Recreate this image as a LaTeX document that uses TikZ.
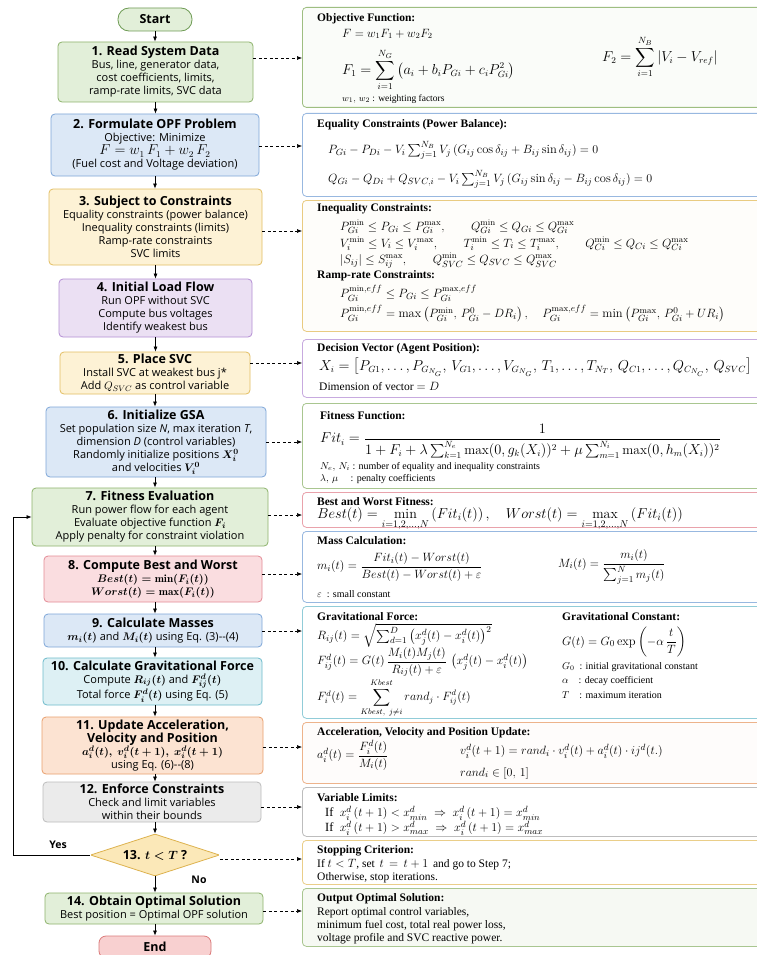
\documentclass[tikz,border=0pt]{standalone}
\usepackage{amsmath,amssymb}
\usepackage{fontspec}
\newfontfamily\flowfont{Open Sans}
\newfontfamily\rfont{Liberation Serif}
\usetikzlibrary{arrows.meta,shapes.geometric,calc}
\definecolor{gF}{HTML}{E2EFD9}\definecolor{gD}{HTML}{8DB36B}
\definecolor{bF}{HTML}{DCE8F6}\definecolor{bD}{HTML}{7EA6D8}
\definecolor{yF}{HTML}{FDF2D5}\definecolor{yD}{HTML}{E3BE62}
\definecolor{pF}{HTML}{EBE0F3}\definecolor{pD}{HTML}{B48ED4}
\definecolor{rF}{HTML}{FADDE0}\definecolor{rD}{HTML}{E48B96}
\definecolor{cF}{HTML}{DDF0F4}\definecolor{cD}{HTML}{6DBBCB}
\definecolor{oF}{HTML}{FCE3D2}\definecolor{oD}{HTML}{E9A06E}
\definecolor{kF}{HTML}{EBEBEB}\definecolor{kD}{HTML}{BDBDBD}
\definecolor{dF}{HTML}{FBE8B8}\definecolor{dD}{HTML}{DDB24E}
\definecolor{eF}{HTML}{F8D0D0}\definecolor{eD}{HTML}{DB7B7B}
\definecolor{sD}{HTML}{6E9B54}
\newcommand\flowtitle[1]{{\fontsize{12.5}{13.5}\selectfont\bfseries #1}}
\newcommand\fs[1]{\fontsize{#1}{#1}\selectfont}
\begin{document}
\begin{tikzpicture}[x=1pt,y=-1pt,
  flow/.style={draw, rounded corners=4pt, line width=0.8pt, align=center,
    font=\flowfont\fontsize{11}{13}\selectfont, inner sep=1pt},
  info/.style={draw, rounded corners=4pt, line width=0.8pt, anchor=north west, inner sep=0pt},
  lbl/.style={anchor=west, font=\rfont\bfseries\fontsize{11.5}{12}\selectfont, inner sep=0pt},
  txt/.style={anchor=west, font=\rfont\fontsize{11.5}{13}\selectfont, inner sep=0pt, align=left},
  small/.style={anchor=west, font=\rfont\fontsize{10}{11}\selectfont, inner sep=0pt},
  eq/.style={anchor=west, inner sep=0pt, font=\fs{12.5}},
  arr/.style={-{Latex[length=5pt,width=4pt]}, line width=0.7pt},
  darr/.style={-{Latex[length=5pt,width=4pt]}, line width=0.6pt, dash pattern=on 3pt off 2.5pt}
]
\useasboundingbox (0,0) rectangle (757,955);
\fill[white] (0,0) rectangle (757,955);

% ---------- left flow ----------
\node[flow, fill=gF, draw=sD, rounded corners=11pt, minimum width=74pt, minimum height=23pt] (st) at (155,19.5) {\flowtitle{Start}};
\node[flow, fill=gF, draw=gD, minimum width=195pt, minimum height=60pt] (b1) at (155.5,72)
 {\flowtitle{1. Read System Data}\\Bus, line, generator data,\\cost coefficients, limits,\\ramp-rate limits, SVC data};
\node[flow, fill=bF, draw=bD, minimum width=208pt, minimum height=62pt] (b2) at (155,145)
 {\flowtitle{2. Formulate OPF Problem}\\Objective: Minimize\\{\fontsize{13.5}{15}\selectfont$F = w_1\,F_1 + w_2\,F_2$}\\(Fuel cost and Voltage deviation)};
\node[flow, fill=yF, draw=yD, minimum width=213pt, minimum height=76pt] (b3) at (155.5,227)
 {\flowtitle{3. Subject to Constraints}\\Equality constraints (power balance)\\Inequality constraints (limits)\\Ramp-rate constraints\\SVC limits};
\node[flow, fill=pF, draw=pD, minimum width=193pt, minimum height=58pt] (b4) at (155.5,308)
 {\flowtitle{4. Initial Load Flow}\\Run OPF without SVC\\Compute bus voltages\\Identify weakest bus};
\node[flow, fill=yF, draw=yD, minimum width=190pt, minimum height=42pt] (b5) at (155,373)
 {\flowtitle{5. Place SVC}\\Install SVC at weakest bus j*\\Add $Q_{SVC}$ as control variable};
\node[flow, fill=bF, draw=bD, minimum width=220pt, minimum height=70pt] (b6) at (156,442)
 {\flowtitle{6. Initialize GSA}\\Set population size \textit{N}, max iteration \textit{T},\\dimension \textit{D} (control variables)\\Randomly initialize positions $\boldsymbol{X_i^0}$\\and velocities $\boldsymbol{V_i^0}$};
\node[flow, fill=gF, draw=gD, minimum width=236pt, minimum height=58pt] (b7) at (150,517)
 {\flowtitle{7. Fitness Evaluation}\\Run power flow for each agent\\Evaluate objective function $\boldsymbol{F_i}$\\Apply penalty for constraint violation};
\node[flow, fill=rF, draw=rD, minimum width=218pt, minimum height=46pt] (b8) at (153,579)
 {\flowtitle{8. Compute Best and Worst}\\{\boldmath$Best(t) = \min(F_i(t))$}\\{\boldmath$Worst(t) = \max(F_i(t))$}};
\node[flow, fill=bF, draw=bD, minimum width=218pt, minimum height=33pt] (b9) at (153,630.5)
 {\flowtitle{9. Calculate Masses}\\{\boldmath$m_i(t)$} and {\boldmath$M_i(t)$} using Eq. (3)--(4)};
\node[flow, fill=cF, draw=cD, minimum width=219pt, minimum height=47pt] (b10) at (152.5,681.5)
 {\flowtitle{10. Calculate Gravitational Force}\\Compute {\boldmath$R_{ij}(t)$} and {\boldmath$F_{ij}^d(t)$}\\Total force {\boldmath$F_i^d(t)$} using Eq. (5)};
\node[flow, fill=oF, draw=oD, minimum width=221pt, minimum height=57pt] (b11) at (152.5,745.5)
 {\flowtitle{11. Update Acceleration,}\\\flowtitle{Velocity and Position}\\{\boldmath$a_i^d(t),\ v_i^d(t+1),\ x_i^d(t+1)$}\\using Eq. (6)--(8)};
\node[flow, fill=kF, draw=kD, minimum width=218pt, minimum height=40pt] (b12) at (152,802)
 {\flowtitle{12. Enforce Constraints}\\Check and limit variables\\within their bounds};
\node[flow, diamond, aspect=3.07, fill=dF, draw=dD, rounded corners=1pt, minimum width=129pt, minimum height=42pt, inner sep=0pt] (d13) at (155,855)
 {\flowtitle{13. \boldmath$t < T$ ?}};
\node[flow, fill=gF, draw=gD, minimum width=218pt, minimum height=31pt] (b14) at (154,908.5)
 {\flowtitle{14. Obtain Optimal Solution}\\Best position = Optimal OPF solution};
\node[flow, fill=eF, draw=eD, rounded corners=7pt, minimum width=112pt, minimum height=22pt] (en) at (155,947) {\flowtitle{End}};

% vertical arrows
\draw[arr] (st.south) -- (st.south |- b1.north);
\draw[arr] (b1.south) -- (b1.south |- b2.north);
\draw[arr] (b2.south) -- (b2.south |- b3.north);
\draw[arr] (b3.south) -- (b3.south |- b4.north);
\draw[arr] (b4.south) -- (b4.south |- b5.north);
\draw[arr] (b5.south) -- (b5.south |- b6.north);
\draw[arr] (b6.south -| st.south) -- (st.south |- b7.north);
\draw[arr] (b7.south -| st.south) -- (st.south |- b8.north);
\draw[arr] (b8.south -| st.south) -- (st.south |- b9.north);
\draw[arr] (b9.south -| st.south) -- (st.south |- b10.north);
\draw[arr] (b10.south -| st.south) -- (st.south |- b11.north);
\draw[arr] (b11.south -| st.south) -- (st.south |- b12.north);
\draw[arr] (b12.south -| st.south) -- (d13.north);
\draw[arr] (d13.south) -- (d13.south |- b14.north);
\draw[arr] (b14.south -| st.south) -- (en.north);

% feedback loop
\coordinate (lp) at (13,517);
\draw[arr] (d13.west) -- (d13.west -| lp) -- (lp) -- (b7.west |- lp);
\node[font=\flowfont\bfseries\fontsize{10.5}{11}\selectfont] (yes) at (58,845) {Yes};
\node[font=\flowfont\bfseries\fontsize{10.5}{11}\selectfont] (no) at (199,880) {No};

% ---------- right info boxes ----------
\node[info, fill=white!96!gD, draw=gD!85, minimum width=470pt, minimum height=100pt] (o1) at (302,7) {};
\node[info, fill=white, draw=bD!80, minimum width=470pt, minimum height=83pt] (o2) at (302,113) {};
\node[info, fill=white!97!yD, draw=yD!80, minimum width=470pt, minimum height=131pt] (o3) at (302,200) {};
\node[info, fill=white, draw=pD!75, minimum width=470pt, minimum height=58pt] (o4) at (302,339) {};
\node[info, fill=white, draw=gD!75, minimum width=470pt, minimum height=85pt] (o5) at (302,403) {};
\node[info, fill=white, draw=rD!80, minimum width=470pt, minimum height=35pt] (o6) at (302,492) {};
\node[info, fill=white, draw=bD!80, minimum width=470pt, minimum height=71pt] (o7) at (302,531) {};
\node[info, fill=white, draw=cD!75, minimum width=470pt, minimum height=112pt] (o8) at (302,606) {};
\node[info, fill=white!97!oD, draw=oD!80, minimum width=470pt, minimum height=61pt] (o9) at (302,722) {};
\node[info, fill=white, draw=kD, minimum width=470pt, minimum height=49pt] (o10) at (302,787) {};
\node[info, fill=white, draw=yD!75, minimum width=470pt, minimum height=44pt] (o11) at (302,840) {};
\node[info, fill=white!92!gD, draw=gD!75, minimum width=470pt, minimum height=58pt] (o12) at (302,888) {};

% dashed connectors
\draw[darr] (b1.east |- 0,58) -- (o1.west |- 0,58);
\draw[darr] (b2.east |- 0,146) -- (o2.west |- 0,146);
\draw[darr] (b3.east |- 0,231) -- (o3.west |- 0,231);
\draw[darr] (b5.east |- 0,363) -- (o4.west |- 0,363);
\draw[darr] (b6.east |- 0,442) -- (o5.west |- 0,442);
\draw[darr] (b7.east |- 0,515) -- (o6.west |- 0,515);
\draw[darr] (b8.east |- 0,574) -- (o7.west |- 0,574);
\draw[darr] (b9.east |- 0,631) -- (o8.west |- 0,631);
\draw[darr] (b11.east |- 0,747) -- (o9.west |- 0,747);
\draw[darr] (b12.east |- 0,807) -- (o10.west |- 0,807);
\draw[darr] (d13.east |- 0,859) -- (o11.west |- 0,859);
\draw[darr] (b14.east |- 0,911) -- (o12.west |- 0,911);

% ---------- right texts ----------
% objective
\node[lbl] (t1) at (317,19) {Objective Function:};
\node[eq, font=\fs{11.5}] (e1a) at (342,34) {$F = w_1F_1 + w_2F_2$};
\node[eq, font=\fs{13.5}] (e1b) at (342,70) {$F_1 = \displaystyle\sum_{i=1}^{N_G} \left(a_i + b_iP_{Gi} + c_iP_{Gi}^2\right)$};
\node[eq, font=\fs{13.5}] (e1c) at (602,57) {$F_2 = \displaystyle\sum_{i=1}^{N_B} |V_i - V_{ref}|$};
\node[small, font=\rfont\fontsize{9.5}{11}\selectfont] (e1d) at (342,99) {$w_1,\, w_2$ : weighting factors};
% equality
\node[lbl] (t2) at (317,125) {Equality Constraints (Power Balance):};
\node[eq, font=\fs{12.5}] (e2a) at (328,150) {$P_{Gi} - P_{Di} - V_i \sum_{j=1}^{N_B} V_j \left(G_{ij}\cos\delta_{ij} + B_{ij}\sin\delta_{ij}\right) = 0$};
\node[eq, font=\fs{12.5}] (e2b) at (328,179) {$Q_{Gi} - Q_{Di} + Q_{SVC,i} - V_i \sum_{j=1}^{N_B} V_j \left(G_{ij}\sin\delta_{ij} - B_{ij}\cos\delta_{ij}\right) = 0$};
% inequality
\node[lbl] (t3) at (317,209) {Inequality Constraints:};
\node[eq, font=\fs{12.3}] (e3a) at (340,227) {$P_{Gi}^{\mathrm{min}} \le P_{Gi} \le P_{Gi}^{\mathrm{max}}, \qquad Q_{Gi}^{\mathrm{min}} \le Q_{Gi} \le Q_{Gi}^{\mathrm{max}}$};
\node[eq, font=\fs{12.3}] (e3b) at (340,244) {$V_i^{\mathrm{min}} \le V_i \le V_i^{\mathrm{max}}, \qquad T_i^{\mathrm{min}} \le T_i \le T_i^{\mathrm{max}}, \qquad Q_{Ci}^{\mathrm{min}} \le Q_{Ci} \le Q_{Ci}^{\mathrm{max}}$};
\node[eq, font=\fs{12.3}] (e3c) at (340,261) {$|S_{ij}| \le S_{ij}^{\mathrm{max}}, \qquad Q_{SVC}^{\mathrm{min}} \le Q_{SVC} \le Q_{SVC}^{\mathrm{max}}$};
\node[lbl] (t3b) at (317,276) {Ramp-rate Constraints:};
\node[eq, font=\fs{12.3}] (e3d) at (340,293) {$P_{Gi}^{\mathrm{min},eff} \le P_{Gi} \le P_{Gi}^{\mathrm{max},eff}$};
\node[eq, font=\fs{12.5}] (e3e) at (340,314) {$P_{Gi}^{\mathrm{min},eff} = \max\left(P_{Gi}^{\mathrm{min}},\, P_{Gi}^{0} - DR_i\right), \quad P_{Gi}^{\mathrm{max},eff} = \min\left(P_{Gi}^{\mathrm{max}},\, P_{Gi}^{0} + UR_i\right)$};
% decision
\node[lbl] (t4) at (317,349) {Decision Vector (Agent Position):};
\node[eq, font=\fs{13.5}] (e4a) at (319,367) {$X_i = \big[P_{G1},\ldots,P_{G_{N_G}},\, V_{G1},\ldots,V_{G_{N_G}},\, T_1,\ldots,T_{N_T},\, Q_{C1},\ldots,Q_{C_{N_C}},\, Q_{SVC}\big]$};
\node[txt] (e4b) at (319,386) {Dimension of vector $=D$};
% fitness
\node[lbl] (t5) at (320,416) {Fitness Function:};
\node[eq, font=\fs{13.5}] (e5a) at (320,441) {$Fit_i = \dfrac{1}{1 + F_i + \lambda\sum_{k=1}^{N_e}\max(0, g_k(X_i))^2 + \mu\sum_{m=1}^{N_i}\max(0, h_m(X_i))^2}$};
\node[small] (e5b) at (320,467) {$N_e,\, N_i$ : number of equality and inequality constraints};
\node[small] (e5c) at (320,479) {$\lambda,\, \mu$\quad\ : penalty coefficients};
% best worst
\node[lbl] (t6) at (317,502) {Best and Worst Fitness:};
\node[eq, font=\fs{14}, anchor=base west] (e6a) at (317,518) {$Best(t) = \displaystyle\min_{i=1,2,\ldots,N}\left(Fit_i(t)\right), \quad Worst(t) = \max_{i=1,2,\ldots,N}\left(Fit_i(t)\right)$};
% mass
\node[lbl] (t7) at (317,541) {Mass Calculation:};
\node[eq, font=\fs{12.6}] (e7a) at (317,567) {$m_i(t) = \dfrac{Fit_i(t) - Worst(t)}{Best(t) - Worst(t) + \varepsilon}$};
\node[eq, font=\fs{13}] (e7b) at (558,567) {$M_i(t) = \dfrac{m_i(t)}{\sum_{j=1}^{N} m_j(t)}$};
\node[small] (e7c) at (317,594) {$\varepsilon$ \ : small constant};
% gravitational
\node[lbl] (t8) at (317,617) {Gravitational Force:};
\node[eq, font=\fs{13}] (e8a) at (317,635) {$R_{ij}(t) = \sqrt{\textstyle\sum_{d=1}^{D}\left(x_j^d(t) - x_i^d(t)\right)^2}$};
\node[eq, font=\fs{12.6}] (e8b) at (317,662) {$F_{ij}^d(t) = G(t)\,\dfrac{M_i(t)M_j(t)}{R_{ij}(t)+\varepsilon}\,\left(x_j^d(t) - x_i^d(t)\right)$};
\node[eq, font=\fs{12}] (e8c) at (317,698) {$F_i^d(t) = \displaystyle\sum_{Kbest,\ j\neq i}^{Kbest} rand_j \cdot F_{ij}^d(t)$};
\node[lbl] (t8b) at (562,617) {Gravitational Constant:};
\node[eq, font=\fs{12.5}] (e8d) at (562,642) {$G(t) = G_0\exp\left(-\alpha\,\dfrac{t}{T}\right)$};
\node[small] (e8e) at (562,667) {$G_0$\ \ : initial gravitational constant};
\node[small] (e8f) at (562,681) {$\alpha$\quad : decay coefficient};
\node[small] (e8g) at (562,695) {$T$\quad : maximum iteration};
% acceleration
\node[lbl] (t9) at (317,733) {Acceleration, Velocity and Position Update:};
\node[eq, font=\fs{13}] (e9a) at (317,755) {$a_i^d(t) = \dfrac{F_i^d(t)}{M_i(t)}$};
\node[eq, font=\fs{12.5}] (e9b) at (460,751) {$v_i^d(t+1) = rand_i \cdot v_i^d(t) + a_i^d(t)\cdot ij^d(t.)$};
\node[eq, font=\fs{12.5}] (e9c) at (460,773) {$rand_i \in [0,\,1]$};
% variable limits
\node[lbl] (t10) at (317,798) {Variable Limits:};
\node[txt, font=\rfont\fontsize{12.5}{13}\selectfont] (e10a) at (325,813) {If \ $x_i^d\,(t+1) < x_{min}^d \;\Rightarrow\; x_i^d\,(t+1) = x_{min}^d$};
\node[txt, font=\rfont\fontsize{12.5}{13}\selectfont] (e10b) at (325,828) {If \ $x_i^d\,(t+1) > x_{max}^d \;\Rightarrow\; x_i^d\,(t+1) = x_{max}^d$};
% stopping
\node[lbl] (t11) at (317,851) {Stopping Criterion:};
\node[txt] (e11a) at (317,865) {If $t < T$, set \,$t \,=\, t+1$\, and go to Step 7;};
\node[txt] (e11b) at (317,878) {Otherwise, stop iterations.};
% output
\node[lbl] (t12) at (317,899) {Output Optimal Solution:};
\node[txt] (e12a) at (317,913) {Report optimal control variables,};
\node[txt] (e12b) at (317,926) {minimum fuel cost, total real power loss,};
\node[txt] (e12c) at (317,939) {voltage profile and SVC reactive power.};
\end{tikzpicture}
\end{document}
